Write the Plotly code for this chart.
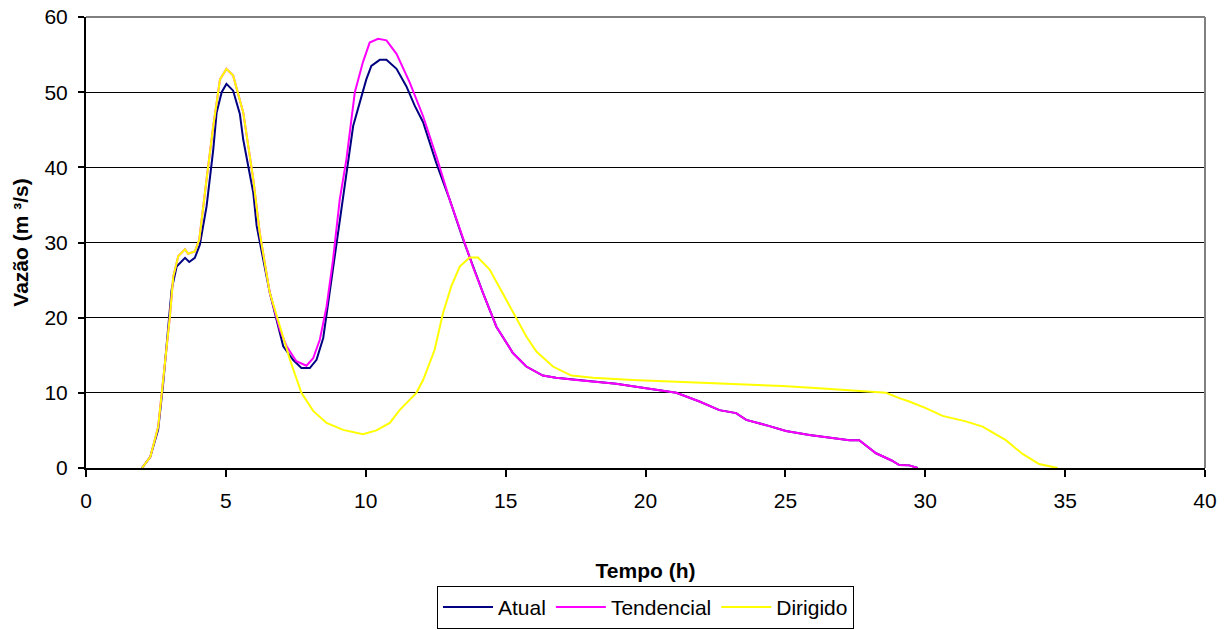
import plotly.graph_objects as go

# Atual
t_atual = [2.0, 2.3, 2.58, 2.76, 3.06, 3.24, 3.54, 3.69, 3.89, 4.07, 4.31, 4.55, 4.67, 4.85, 5.02, 5.26, 5.5, 5.62,
           5.98, 6.1, 6.57, 7.05, 7.4, 7.7, 8.0, 8.24, 8.48, 8.71, 9.0, 9.31, 9.55, 10.02, 10.2, 10.5, 10.74, 11.1,
           11.45, 11.75, 12.05, 12.52, 13.0, 13.48, 13.83, 14.19, 14.67, 15.26, 15.74, 16.33, 16.8, 17.52, 18.95,
           20.02, 21.1, 21.93, 22.64, 23.24, 23.6, 24.31, 25.02, 25.86, 26.69, 27.29, 27.64, 28.24, 28.8, 29.07,
           29.43, 29.73]
q_atual = [0, 1.5, 5.1, 11.3, 23.7, 26.8, 27.96, 27.4, 27.96, 29.7, 34.8, 42.4, 47.3, 50.0, 51.1, 50.2, 47.1, 43.7,
           36.6, 32.2, 23.3, 16.2, 14.4, 13.3, 13.3, 14.4, 17.3, 23.3, 31.0, 39.3, 45.5, 51.7, 53.5, 54.3, 54.3, 53.1,
           50.8, 48.2, 46.0, 40.6, 35.7, 30.4, 26.8, 23.3, 18.8, 15.3, 13.5, 12.3, 12.0, 11.7, 11.2,
           10.6, 10.0, 8.85, 7.7, 7.3, 6.4, 5.7, 4.93, 4.4, 3.96, 3.7, 3.7, 1.96, 1.0, 0.4,
           0.35, 0]

# Tendencial
t_tend = [2.0, 2.3, 2.58, 3.0, 3.12, 3.3, 3.54, 3.65, 3.89, 4.05, 4.31, 4.55, 4.79, 5.02, 5.26, 5.62, 5.98, 6.21,
          6.57, 6.93, 7.17, 7.52, 7.88, 8.12, 8.36, 8.6, 8.83, 9.07, 9.31, 9.61, 9.9, 10.14, 10.44, 10.74, 11.1,
          11.57, 12.05, 12.52, 13.0, 13.48, 13.83, 14.19, 14.67, 15.26, 15.74, 16.33, 16.8, 17.52, 18.95, 20.02,
          21.1, 21.93, 22.64, 23.24, 23.6, 24.31, 25.02, 25.86, 26.69, 27.29, 27.64, 28.24, 28.8, 29.07, 29.43, 29.73]
q_tend = [0, 1.5, 5.5, 20.2, 25.5, 28.2, 29.1, 28.5, 28.8, 30.4, 38.4, 45.5, 51.7, 53.1, 52.2, 47.3, 38.4, 31.3,
          23.3, 18.4, 16.2, 14.2, 13.6, 14.6, 17.1, 21.5, 27.7, 35.7, 41.1, 50.0, 54.0, 56.6, 57.1, 56.9, 55.1,
          51.3, 46.8, 41.5, 35.7, 30.4, 26.8, 23.3, 18.8, 15.3, 13.5, 12.3, 12.0, 11.7, 11.2, 10.6,
          10.0, 8.85, 7.7, 7.3, 6.4, 5.7, 4.93, 4.4, 3.96, 3.7, 3.7, 1.96, 1.0, 0.4, 0.35, 0]

# Dirigido
t_dir = [2.0, 2.3, 2.58, 3.0, 3.12, 3.3, 3.54, 3.65, 3.89, 4.05, 4.31, 4.55, 4.79, 5.02, 5.26, 5.62, 5.98, 6.21,
         6.57, 6.99, 7.29, 7.7, 8.12, 8.6, 9.19, 9.9, 10.38, 10.86, 11.21, 11.81, 12.05, 12.46, 12.76, 13.06,
         13.36, 13.71, 14.01, 14.43, 14.79, 15.38, 15.74, 16.1, 16.69, 17.35, 18.12, 19.55, 21.69, 23.48, 24.9,
         26.2, 27.3, 28.24, 28.6, 29.07, 29.43, 30.02, 30.62, 31.45, 32.05, 32.88, 33.48, 34.07, 34.73]
q_dir = [0, 1.5, 5.5, 20.2, 25.5, 28.2, 29.1, 28.5, 28.8, 30.4, 38.4, 45.5, 51.7, 53.1, 52.2, 47.3, 38.4, 31.3,
         23.3, 18.0, 14.4, 10.0, 7.6, 6.0, 5.07, 4.5, 5.0, 6.0, 7.7, 10.0, 11.7, 15.7, 20.6, 24.2,
         26.8, 28.0, 28.0, 26.4, 24.0, 20.0, 17.5, 15.5, 13.5, 12.3, 12.0, 11.7, 11.4, 11.1, 10.9,
         10.6, 10.3, 10.1, 10.0, 9.3, 8.85, 7.96, 6.93, 6.2, 5.5, 3.7, 1.87, 0.53, 0]

x_ticks = [0, 5, 10, 15, 20, 25, 30, 35, 40]
y_ticks = [0, 10, 20, 30, 40, 50, 60]

FONT = "Liberation Sans, Arial, sans-serif"
FS = 21

fig = go.Figure()
fig.add_trace(go.Scatter(x=t_atual, y=q_atual, mode="lines", name="Atual",
                         line=dict(color="#000080", width=2)))
fig.add_trace(go.Scatter(x=t_tend, y=q_tend, mode="lines", name="Tendencial",
                         line=dict(color="#FF00FF", width=2)))
fig.add_trace(go.Scatter(x=t_dir, y=q_dir, mode="lines", name="Dirigido",
                         line=dict(color="#FFFF00", width=2)))

fig.update_layout(
    width=1230, height=630,
    margin=dict(l=86, r=25, t=17, b=162, autoexpand=False),
    paper_bgcolor="white", plot_bgcolor="white",
    font=dict(family=FONT, size=FS, color="black"),
    showlegend=True,
    legend=dict(orientation="h", x=0.5, xanchor="center", y=-0.309, yanchor="middle",
                bordercolor="black", borderwidth=1, font=dict(size=FS), itemwidth=50,
                tracegroupgap=0),
    xaxis=dict(range=[0, 40], tickvals=x_ticks, ticks="outside", ticklen=7, tickwidth=2,
               tickcolor="black", showline=True, linecolor="black", linewidth=2,
               showgrid=False, zeroline=False, ticklabelstandoff=6, automargin=False,
               title=dict(text="<b>Tempo (h)</b>", standoff=52, font=dict(size=FS))),
    yaxis=dict(range=[0, 60], tickvals=y_ticks, ticks="outside", ticklen=6, tickwidth=2,
               tickcolor="black", showline=True, linecolor="black", linewidth=2,
               showgrid=True, gridcolor="black", gridwidth=1, zeroline=False,
               ticklabelstandoff=6, automargin=False,
               title=dict(text="<b>Vazão (m ³/s)</b>", standoff=10, font=dict(size=FS))),
    shapes=[
        dict(type="line", xref="paper", yref="paper", x0=0, x1=1, y0=1, y1=1,
             line=dict(color="#808080", width=2), layer="above"),
        dict(type="line", xref="paper", yref="paper", x0=1, x1=1, y0=0, y1=1,
             line=dict(color="#808080", width=2), layer="above"),
    ],
)

fig.write_html("out.html")
